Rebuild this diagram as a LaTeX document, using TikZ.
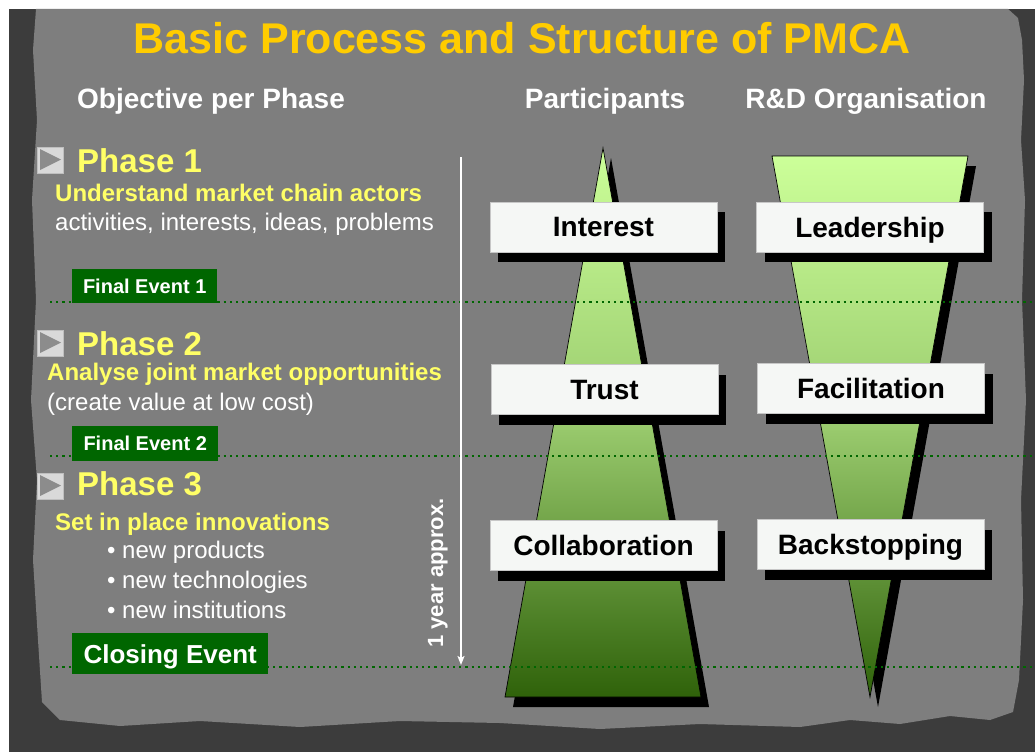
\documentclass[tikz,border=0pt]{standalone}
\usepackage{fontspec}
\setmainfont{Liberation Sans}
\usetikzlibrary{arrows.meta,shadows}
\definecolor{bgdark}{HTML}{3C3C3C}
\definecolor{bggrey}{HTML}{7E7E7E}
\definecolor{titleyel}{HTML}{FFCC00}
\definecolor{phaseyel}{HTML}{FFFF66}
\definecolor{evgreen}{HTML}{006600}
\definecolor{gtop}{HTML}{CCFF99}
\definecolor{gmid}{HTML}{9ACB6E}
\definecolor{gbot}{HTML}{2F620A}
\definecolor{boxfill}{HTML}{F5F7F5}
\definecolor{iconbox}{HTML}{D9D9D9}
\definecolor{icontri}{HTML}{8C8C8C}
\newcommand\myfs[1]{\fontsize{#1}{#1}\selectfont}
\begin{document}
\begin{tikzpicture}[x=1pt,y=-1pt,
  titletext/.style={text=titleyel,font=\myfs{43}\bfseries,inner sep=0pt,anchor=base},
  headtext/.style={text=white,font=\myfs{28}\bfseries,inner sep=0pt},
  phasetext/.style={text=phaseyel,font=\myfs{33}\bfseries,inner sep=0pt,anchor=base west},
  objtext/.style={text=phaseyel,font=\myfs{24}\bfseries,inner sep=0pt,anchor=base west},
  desctext/.style={text=white,font=\myfs{24},inner sep=0pt,anchor=base west},
  eventbox/.style={fill=evgreen,text=white,inner sep=0pt,anchor=north west,text depth=0pt},
  labelbox/.style={draw=black!22,line width=0.6pt,fill=boxfill,text=black,font=\myfs{28}\bfseries,
     minimum width=227pt,minimum height=50pt,inner sep=0pt,text depth=0pt,
     general shadow={fill=black,shadow xshift=8pt,shadow yshift=-10pt}},
  shapeline/.style={draw=black,line width=0.7pt,top color=gtop,bottom color=gbot,middle color=gmid},
  shapeshadow/.style={fill=black,shift={(8,10)}},
  dotline/.style={evgreen,line width=2.2pt,dash pattern=on 2.2pt off 4pt},
  icon/.style={fill=iconbox,draw=black!25,line width=0.5pt},
  icontriangle/.style={fill=icontri}
]
\useasboundingbox (0,0) rectangle (1035,752);
% background
\fill[white] (0,0) rectangle (1035,752);
\fill[bgdark] (9,9) rectangle (1035,752);
\fill[bggrey] (40,9) -- (1008,9) -- (1018,18) -- (1022,40) -- (1024,80) -- (1021,140) -- (1025,200)
  -- (1022,300) -- (1026,400) -- (1021,500) -- (1023,600) -- (1019,680) -- (1013,712) -- (990,720)
  -- (950,716) -- (900,724) -- (850,720) -- (800,727) -- (700,724) -- (600,729) -- (500,723)
  -- (400,721) -- (300,727) -- (200,721) -- (120,726) -- (60,720) -- (42,702) -- (38,640)
  -- (33,560) -- (37,480) -- (31,400) -- (36,300) -- (32,200) -- (37,120) -- (33,50) -- (36,9) -- cycle;

% shapes
\fill[shapeshadow] (603,148) -- (701,697) -- (505,697) -- cycle;
\path[shapeline] (603,148) -- (701,697) -- (505,697) -- cycle;
\fill[shapeshadow] (772,156) -- (968,156) -- (870,697) -- cycle;
\path[shapeline] (772,156) -- (968,156) -- (870,697) -- cycle;

% dotted lines
\coordinate (d1a) at (50,302); \coordinate (d1b) at (1035,302);
\coordinate (d2a) at (50,456); \coordinate (d2b) at (1035,456);
\coordinate (d3a) at (50,667); \coordinate (d3b) at (1035,667);
\draw[dotline] (d1a) -- (d1b);
\draw[dotline] (d2a) -- (d2b);
\draw[dotline] (d3a) -- (d3b);

% time arrow
\coordinate (ytop) at (461,157);
\coordinate (ybot) at (461,665);
\draw[white,line width=2pt,-{Stealth[length=9pt,width=7pt,inset=2pt]}] (ytop) -- (ybot);
\node[text=white,font=\myfs{22}\bfseries,inner sep=0pt,rotate=90,anchor=base] (year) at (443,573) {1 year approx.};

% title and headings
\node[titletext] (title) at (522,54) {Basic Process and Structure of PMCA};
\node[headtext,anchor=base west] (hobj) at (77,108) {Objective per Phase};
\node[headtext,anchor=base] (hpart) at (605,108) {Participants};
\node[headtext,anchor=base] (hrd) at (866,108) {R\&D Organisation};

% icons
\foreach \yy in {147,330,473}{
  \fill[icon] (37,\yy) rectangle (63,\yy+26);
  \fill[icontriangle] (40,\yy+2) -- (40,\yy+23) -- (61,\yy+12.5) -- cycle;
}

% phase texts
\node[phasetext] (p1) at (77,172) {Phase 1};
\node[objtext] (o1) at (55,201) {Understand market chain actors};
\node[desctext] (d1) at (55,230) {activities, interests, ideas, problems};
\node[phasetext] (p2) at (77,355) {Phase 2};
\node[objtext] (o2) at (47,380) {Analyse joint market opportunities};
\node[desctext] (d2) at (47,410) {(create value at low cost)};
\node[phasetext] (p3) at (77,495) {Phase 3};
\node[objtext] (o3) at (55,530) {Set in place innovations};
\node[desctext] (b1) at (107,558) {• new products};
\node[desctext] (b2) at (107,588) {• new technologies};
\node[desctext] (b3) at (107,618) {• new institutions};

% events
\node[eventbox,minimum width=145pt,minimum height=34pt,font=\myfs{20}\bfseries] (e1) at (72,269) {Final Event 1};
\node[eventbox,minimum width=146pt,minimum height=35pt,font=\myfs{20}\bfseries] (e2) at (72,426) {Final Event 2};
\node[eventbox,minimum width=196pt,minimum height=41pt,font=\myfs{26}\bfseries] (e3) at (72,633) {Closing Event};

% label boxes
\node[labelbox] (interest) at (603.5,227) {Interest};
\node[labelbox] (leader) at (870,227) {Leadership};
\node[labelbox] (trust) at (604.5,389.5) {Trust};
\node[labelbox] (facil) at (871,388.5) {Facilitation};
\node[labelbox] (collab) at (603.5,545.5) {Collaboration};
\node[labelbox] (backst) at (870.5,544.5) {Backstopping};
\end{tikzpicture}
\end{document}
